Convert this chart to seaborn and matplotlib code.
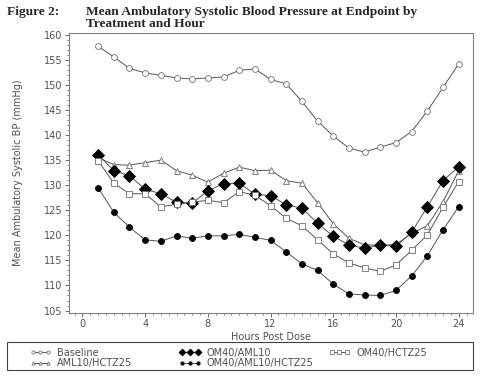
import pandas as pd
import seaborn as sns
from matplotlib import pyplot as plt
from matplotlib.patches import Rectangle
from matplotlib.ticker import MultipleLocator

# データ (時間ごとの平均収縮期血圧)
hours = list(range(1, 25))
baseline = [157.7, 155.6, 153.3, 152.4, 151.9, 151.4, 151.2, 151.4, 151.6, 152.9, 153.2, 151.1,
            150.2, 146.7, 142.8, 139.8, 137.4, 136.6, 137.6, 138.5, 140.7, 144.8, 149.5, 154.2]
aml_hctz = [135.5, 134.1, 134.0, 134.5, 135.0, 132.9, 132.0, 130.6, 132.4, 133.6, 132.9, 133.0,
            130.9, 130.4, 126.5, 122.3, 119.4, 118.1, 118.0, 118.2, 120.4, 121.9, 126.7, 132.9]
om_aml = [136.1, 132.9, 131.9, 129.2, 128.3, 126.6, 126.4, 128.9, 130.3, 130.4, 128.2, 127.9,
          126.1, 125.4, 122.4, 119.8, 118.1, 117.4, 118.1, 117.8, 120.6, 125.7, 130.9, 133.7]
om_aml_hctz = [129.5, 124.6, 121.6, 119.1, 118.8, 119.9, 119.4, 119.9, 119.9, 120.2, 119.6, 119.0,
               116.7, 114.3, 113.0, 110.3, 108.3, 108.1, 108.0, 109.0, 111.9, 115.9, 121.1, 125.7]
om_hctz = [134.9, 130.4, 128.3, 128.3, 125.7, 126.2, 126.6, 127.0, 126.5, 128.7, 128.0, 125.9,
           123.4, 121.9, 119.1, 116.3, 114.5, 113.5, 112.8, 114.1, 117.0, 120.1, 125.6, 130.7]

labels = ['Baseline', 'AML10/HCTZ25', 'OM40/AML10', 'OM40/AML10/HCTZ25', 'OM40/HCTZ25']
series = [baseline, aml_hctz, om_aml, om_aml_hctz, om_hctz]

df = pd.DataFrame({
    'hour': hours * len(labels),
    'bp': sum(series, []),
    'treatment': sum([[lab] * len(hours) for lab in labels], []),
})

# マーカーのスタイル
styles = {
    'Baseline': dict(marker='o', ms=4.2, mfc='white', mec='#707070'),
    'AML10/HCTZ25': dict(marker='^', ms=4.2, mfc='white', mec='#707070'),
    'OM40/AML10': dict(marker='D', ms=6.3, mfc='black', mec='black'),
    'OM40/AML10/HCTZ25': dict(marker='o', ms=4.3, mfc='black', mec='black'),
    'OM40/HCTZ25': dict(marker='s', ms=4.2, mfc='white', mec='#707070'),
}

sns.set_style('white')
plt.rcParams['font.family'] = ['DejaVu Sans']
grey = '#505050'

fig = plt.figure(figsize=(4.8, 3.77), dpi=100)
ax = fig.add_axes([0.144, 0.171, 0.841, 0.742])

for lab in labels:
    sns.lineplot(data=df[df['treatment'] == lab], x='hour', y='bp', ax=ax,
                 color='#555555', lw=0.7, label=lab, mew=0.6, **styles[lab])

ax.set_xlim(-0.85, 24.9)
ax.set_ylim(104.6, 160.4)
ax.xaxis.set_major_locator(MultipleLocator(4))
ax.xaxis.set_minor_locator(MultipleLocator(0.5))
ax.yaxis.set_major_locator(MultipleLocator(5))
ax.yaxis.set_minor_locator(MultipleLocator(1))
ax.tick_params(which='major', direction='out', length=3, width=0.6, colors=grey, labelsize=7,
               bottom=True, left=True, pad=2)
ax.tick_params(which='minor', direction='out', length=1.5, width=0.5, colors=grey,
               bottom=True, left=True)
for sp in ax.spines.values():
    sp.set_color('#808080')
    sp.set_linewidth(0.8)

ax.set_xlabel('Hours Post Dose', fontsize=7, color=grey, labelpad=2)
ax.set_ylabel('Mean Ambulatory Systolic BP (mmHg)', fontsize=7, color=grey, labelpad=15)

# 凡例 (3列を個別に配置)
handles, hl = ax.get_legend_handles_labels()
ax.get_legend().remove()
cols = [[0, 1], [2, 3], [4]]
col_x = [0.062, 0.373, 0.685]
for idx, x0 in zip(cols, col_x):
    leg = fig.legend([handles[i] for i in idx], [hl[i] for i in idx], loc='upper left',
                     bbox_to_anchor=(x0, 0.078), fontsize=7, frameon=False,
                     handlelength=2.2, handletextpad=0.6, borderpad=0, labelspacing=0.05,
                     numpoints=3, markerscale=0.55, borderaxespad=0)
    for t in leg.get_texts():
        t.set_color(grey)
fig.add_artist(Rectangle((0.014, 0.018), 0.971, 0.076, transform=fig.transFigure,
                         fill=False, edgecolor='#404040', lw=0.8))

# タイトル
fig.text(0.015, 0.985, 'Figure 2:', fontsize=9.6, fontweight='bold', family='Liberation Serif',
         va='top', ha='left')
fig.text(0.179, 0.985, 'Mean Ambulatory Systolic Blood Pressure at Endpoint by\nTreatment and Hour',
         fontsize=9.6, fontweight='bold', family='Liberation Serif', va='top', ha='left',
         linespacing=1.0)

fig.savefig('out.png', dpi=100)
